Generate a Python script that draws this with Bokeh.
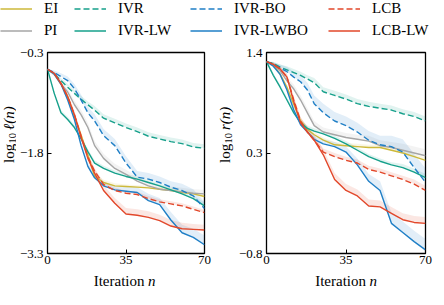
import numpy as np
from bokeh.plotting import figure
from bokeh.models import Range1d, FixedTicker, Legend, LegendItem, Label
from bokeh.layouts import column, row
from bokeh.embed import file_html
from bokeh.resources import INLINE

# ---------------- data ----------------
ITER = [0, 3, 6, 9, 12, 15, 18, 21, 25, 30, 35, 40, 45, 50, 55, 60, 65, 70]

NAMES = ["EI", "PI", "IVR", "IVR-LW", "IVR-BO", "IVR-LWBO", "LCB", "LCB-LW"]
COLORS = ["#cdb93a", "#a6a6a6", "#16a08b", "#16a08b", "#1f7fc6", "#1f7fc6", "#e2472a", "#e2472a"]
DASHES = ["solid", "solid", "6 3", "solid", "6 3", "solid", "6 3", "solid"]

# left panel: log10 l(n)
L_EI = [-0.55, -0.62, -0.77, -0.96, -1.25, -1.54, -1.83, -2.15, -2.24, -2.29, -2.30, -2.31, -2.32, -2.34, -2.36, -2.39, -2.41, -2.45]
L_PI = [-0.55, -0.63, -0.77, -0.89, -1.08, -1.23, -1.42, -1.69, -1.88, -2.03, -2.12, -2.22, -2.29, -2.34, -2.36, -2.38, -2.40, -2.41]
L_IVR = [-0.55, -0.62, -0.72, -0.82, -0.91, -1.00, -1.08, -1.16, -1.28, -1.35, -1.42, -1.48, -1.55, -1.59, -1.63, -1.66, -1.71, -1.73]
L_IVR_LW = [-0.55, -0.91, -1.20, -1.30, -1.42, -1.59, -1.78, -1.95, -2.03, -2.10, -2.15, -2.19, -2.24, -2.29, -2.35, -2.41, -2.48, -2.59]
L_IVR_BO = [-0.55, -0.60, -0.66, -0.72, -0.84, -1.01, -1.20, -1.32, -1.54, -1.69, -1.95, -2.16, -2.19, -2.24, -2.31, -2.36, -2.44, -2.63]
L_IVR_LWBO = [-0.55, -0.62, -0.77, -1.01, -1.30, -1.69, -2.00, -2.17, -2.29, -2.35, -2.37, -2.39, -2.51, -2.57, -2.80, -2.99, -3.06, -3.17]
L_LCB = [-0.55, -0.61, -0.76, -0.96, -1.23, -1.55, -1.86, -2.07, -2.27, -2.36, -2.40, -2.42, -2.48, -2.53, -2.56, -2.59, -2.64, -2.69]
L_LCB_LW = [-0.55, -0.61, -0.76, -0.96, -1.23, -1.57, -1.88, -2.10, -2.36, -2.55, -2.71, -2.73, -2.76, -2.81, -2.89, -2.93, -2.94, -2.95]

# left panel upper spread of the shaded bands
LB_EI = [0, .02, .03, .04, .04, .05, .05, .05, .04, .04, .03, .03, .03, .03, .03, .03, .03, .03]
LB_PI = [0, .02, .04, .05, .06, .07, .07, .07, .07, .07, .07, .07, .06, .06, .06, .06, .06, .06]
LB_IVR = [0, .03, .04, .05, .05, .05, .05, .06, .06, .06, .06, .06, .06, .06, .06, .06, .06, .06]
LB_IVR_LW = [0, .03, .04, .04, .04, .04, .04, .04, .04, .04, .04, .04, .04, .04, .04, .05, .05, .05]
LB_IVR_BO = [0, .03, .05, .06, .07, .08, .09, .10, .10, .10, .10, .09, .09, .09, .09, .10, .10, .10]
LB_IVR_LWBO = [0, .03, .04, .05, .06, .06, .06, .06, .06, .06, .07, .08, .10, .10, .12, .12, .13, .14]
LB_LCB = [0, .02, .03, .04, .05, .05, .05, .04, .04, .04, .04, .04, .04, .04, .04, .04, .04, .04]
LB_LCB_LW = [0, .02, .03, .05, .06, .07, .07, .07, .08, .08, .09, .09, .09, .09, .09, .09, .08, .08]

# right panel: log10 r(n)
R_EI = [1.30, 1.27, 1.16, 1.02, 0.83, 0.65, 0.56, 0.50, 0.44, 0.39, 0.38, 0.37, 0.36, 0.36, 0.33, 0.30, 0.26, 0.22]
R_PI = [1.30, 1.27, 1.20, 1.09, 1.00, 0.88, 0.74, 0.60, 0.53, 0.50, 0.47, 0.45, 0.43, 0.38, 0.36, 0.33, 0.30, 0.27]
R_IVR = [1.30, 1.28, 1.24, 1.21, 1.18, 1.15, 1.11, 1.07, 0.97, 0.93, 0.89, 0.84, 0.81, 0.79, 0.77, 0.73, 0.70, 0.65]
R_IVR_LW = [1.30, 1.15, 1.02, 0.88, 0.74, 0.63, 0.57, 0.54, 0.51, 0.46, 0.40, 0.33, 0.26, 0.21, 0.17, 0.14, 0.09, 0.03]
R_IVR_BO = [1.30, 1.27, 1.23, 1.19, 1.13, 1.08, 0.99, 0.84, 0.74, 0.65, 0.60, 0.53, 0.44, 0.39, 0.37, 0.31, 0.14, -0.02]
R_IVR_LWBO = [1.30, 1.25, 1.16, 0.99, 0.77, 0.61, 0.53, 0.45, 0.40, 0.37, 0.31, 0.17, -0.01, -0.11, -0.47, -0.57, -0.67, -0.76]
R_LCB = [1.30, 1.27, 1.22, 1.13, 0.88, 0.65, 0.53, 0.44, 0.31, 0.26, 0.22, 0.19, 0.12, 0.09, 0.05, 0.01, -0.04, -0.11]
R_LCB_LW = [1.30, 1.27, 1.22, 1.13, 0.86, 0.63, 0.53, 0.44, 0.28, 0.01, -0.11, -0.17, -0.28, -0.29, -0.36, -0.43, -0.46, -0.47]

RB_EI = [0, .01, .02, .03, .03, .03, .03, .03, .03, .03, .03, .03, .03, .03, .03, .03, .03, .03]
RB_PI = [0, .02, .03, .04, .05, .05, .05, .05, .05, .05, .05, .05, .06, .06, .06, .07, .07, .07]
RB_IVR = [0, .02, .03, .04, .04, .04, .04, .05, .05, .05, .05, .05, .05, .05, .05, .05, .05, .05]
RB_IVR_LW = [0, .02, .03, .03, .03, .03, .03, .03, .03, .03, .03, .03, .03, .03, .03, .04, .04, .04]
RB_IVR_BO = [0, .02, .04, .05, .06, .07, .08, .09, .10, .10, .10, .10, .10, .10, .12, .14, .15, .15]
RB_IVR_LWBO = [0, .02, .03, .04, .04, .04, .04, .04, .05, .05, .06, .07, .08, .10, .12, .12, .12, .12]
RB_LCB = [0, .02, .03, .03, .04, .04, .04, .04, .04, .04, .04, .04, .04, .04, .04, .04, .05, .05]
RB_LCB_LW = [0, .02, .03, .04, .05, .06, .06, .06, .06, .07, .07, .07, .07, .07, .07, .07, .07, .07]

X_TICKS = [0, 35, 70]
L_TICKS = [-3.3, -1.8, -0.3]
R_TICKS = [-0.8, 0.3, 1.4]
L_SYM = "\u2113"
R_SYM = "r"

LEFT_VALS = [L_EI, L_PI, L_IVR, L_IVR_LW, L_IVR_BO, L_IVR_LWBO, L_LCB, L_LCB_LW]
LEFT_BANDS = [LB_EI, LB_PI, LB_IVR, LB_IVR_LW, LB_IVR_BO, LB_IVR_LWBO, LB_LCB, LB_LCB_LW]
RIGHT_VALS = [R_EI, R_PI, R_IVR, R_IVR_LW, R_IVR_BO, R_IVR_LWBO, R_LCB, R_LCB_LW]
RIGHT_BANDS = [RB_EI, RB_PI, RB_IVR, RB_IVR_LW, RB_IVR_BO, RB_IVR_LWBO, RB_LCB, RB_LCB_LW]

FONT = "Liberation Serif"
ROW_H = 232
XS_H = 18
MB_TOP = 13
MB_BOT = 18
TITLE_SIZE = "15px"


def fmt(v):
    return f"{v:.1f}".replace("-", "\u2212")


def strip(width, height):
    s = figure(width=width, height=height, x_range=Range1d(0, 1), y_range=Range1d(0, 1),
               toolbar_location=None, output_backend="svg", min_border=0,
               x_axis_location=None, y_axis_location=None)
    s.grid.visible = False
    s.outline_line_color = None
    return s


def lab(s, x, y, text, size=TITLE_SIZE, style="normal", angle=0.0, align="left",
        baseline="middle"):
    s.add_layout(Label(x=x, y=y, x_units="screen", y_units="screen", angle=angle,
                       text=text, text_font=FONT, text_font_size=size,
                       text_font_style=style, text_align=align, text_baseline=baseline,
                       text_color="black"))


def make_panel(vals, bands, yticks, width, mb_left, mb_right):
    p = figure(width=width, height=ROW_H, x_range=Range1d(0, 70),
               y_range=Range1d(yticks[0], yticks[-1]),
               toolbar_location=None, output_backend="svg",
               min_border_left=mb_left, min_border_right=mb_right,
               min_border_top=MB_TOP, min_border_bottom=MB_BOT)
    p.grid.visible = False
    p.outline_line_color = "black"
    p.outline_line_width = 1.3
    p.outline_line_alpha = 1
    p.background_fill_color = "white"
    p.border_fill_color = "white"
    p.xaxis.ticker = FixedTicker(ticks=X_TICKS)
    p.yaxis.ticker = FixedTicker(ticks=yticks)
    p.yaxis.major_label_overrides = {t: fmt(t) for t in yticks}
    for ax in p.axis:
        ax.axis_line_color = None
        ax.major_tick_in = 4
        ax.major_tick_out = 0
        ax.minor_tick_in = 0
        ax.minor_tick_out = 0
        ax.major_tick_line_color = "black"
        ax.major_tick_line_width = 1
        ax.major_label_text_font = FONT
        ax.major_label_text_font_size = "13px"
        ax.major_label_text_color = "black"
    p.xaxis.major_label_standoff = 2
    p.yaxis.major_label_standoff = 4

    x = np.array(ITER, dtype=float)
    for v, b, c in zip(vals, bands, COLORS):
        v = np.array(v)
        p.varea(x=x, y1=v, y2=v + np.array(b), fill_color=c, fill_alpha=0.13)
    for v, c, d in zip(vals, COLORS, DASHES):
        p.line(x, v, line_color=c, line_width=1.4, line_dash=d)
    return p


def ytitle(width, sym):
    s = strip(width, ROW_H)
    xc = width / 2
    yc = MB_BOT + (ROW_H - MB_TOP - MB_BOT) / 2
    y0 = yc - 28
    ang = np.pi / 2
    lab(s, xc, y0, "log", angle=ang)
    lab(s, xc + 3.5, y0 + 19.5, "10", size="10.5px", angle=ang)
    lab(s, xc, y0 + 33, sym + "(n)", style="italic", angle=ang)
    return s


p_left = make_panel(LEFT_VALS, LEFT_BANDS, L_TICKS, 198, 28, 10)
p_right = make_panel(RIGHT_VALS, RIGHT_BANDS, R_TICKS, 200, 32, 9)
yl_left = ytitle(16, L_SYM)
yl_right = ytitle(20, R_SYM)

# x titles strip (frame centres at 124 and 345.5 px from the strip's left edge)
xs = strip(434, XS_H)
for cx in (16 + 28 + 80, 16 + 198 + 20 + 32 + 79.5):
    lab(xs, cx + 20, XS_H / 2, "Iteration", align="right")
    lab(xs, cx + 23.5, XS_H / 2, "n", style="italic", align="left")

# legend strip
lf = strip(434, 39)
rends = []
for c, d in zip(COLORS, DASHES):
    rends.append(lf.line(x=[0.0, 1.0], y=[np.nan, np.nan], line_color=c, line_width=1.5,
                         line_dash=d))

COL_X = [0, 74, 190, 328]
for k, xpos in enumerate(COL_X):
    items = [LegendItem(label=NAMES[2 * k], renderers=[rends[2 * k]]),
             LegendItem(label=NAMES[2 * k + 1], renderers=[rends[2 * k + 1]])]
    leg = Legend(items=items, location=(xpos, 0), orientation="vertical",
                 glyph_width=32, glyph_height=17, label_height=17, label_standoff=12,
                 spacing=5, padding=0, margin=0, border_line_color=None,
                 background_fill_alpha=0, label_text_font=FONT,
                 label_text_font_size="15px", label_text_color="black")
    lf.add_layout(leg)

layout = column(lf, row(yl_left, p_left, yl_right, p_right), xs)
open("out.html", "w").write(file_html(layout, INLINE))
